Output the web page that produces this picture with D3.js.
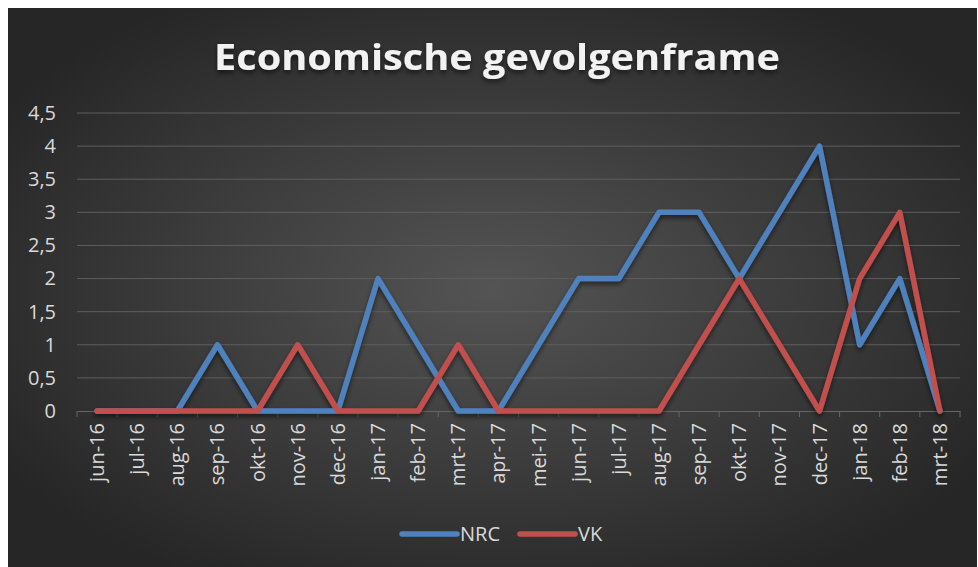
<!DOCTYPE html>
<meta charset="utf-8">
<style>
body { margin: 0; background: #fff; }
svg { display: block; }
.tick text { font-family: "Open Sans", "DejaVu Sans", sans-serif; }
</style>
<body>
<svg width="978" height="567"></svg>
</body>
<script src="https://cdn.jsdelivr.net/npm/d3@7/dist/d3.min.js"></script>
<script>

// data
var months = ["jun-16", "jul-16", "aug-16", "sep-16", "okt-16", "nov-16", "dec-16",
  "jan-17", "feb-17", "mrt-17", "apr-17", "mei-17", "jun-17", "jul-17", "aug-17",
  "sep-17", "okt-17", "nov-17", "dec-17", "jan-18", "feb-18", "mrt-18"];
var nrc = [0, 0, 0, 1, 0, 0, 0, 2, 1, 0, 0, 1, 2, 2, 3, 3, 2, 3, 4, 1, 2, 0];
var vk  = [0, 0, 0, 0, 0, 1, 0, 0, 0, 1, 0, 0, 0, 0, 0, 1, 2, 1, 0, 2, 3, 0];
var yTicks = [0, 0.5, 1, 1.5, 2, 2.5, 3, 3.5, 4, 4.5];
var seriesNames = ["NRC", "VK"];
var seriesColors = ["#4f81bd", "#c0504d"];

var svg = d3.select("svg");

var defs = svg.append("defs");
var grad = defs.append("radialGradient")
    .attr("id", "bg")
    .attr("cx", "50%").attr("cy", "50%").attr("r", "60%");
grad.append("stop").attr("offset", "0%").attr("stop-color", "#545454");
grad.append("stop").attr("offset", "100%").attr("stop-color", "#262626");

var shadow = defs.append("filter").attr("id", "shadow")
    .attr("x", "-10%").attr("y", "-10%").attr("width", "120%").attr("height", "130%");
shadow.append("feDropShadow")
    .attr("dx", 0).attr("dy", 3).attr("stdDeviation", 2.5)
    .attr("flood-color", "#000").attr("flood-opacity", 0.55);

svg.append("rect")
    .attr("x", 8).attr("y", 8)
    .attr("width", 969).attr("height", 559)
    .attr("fill", "url(#bg)");

// title
svg.append("text")
    .attr("x", 497).attr("y", 70)
    .attr("text-anchor", "middle")
    .attr("font-family", "'Open Sans', 'DejaVu Sans', sans-serif")
    .attr("font-weight", "bold")
    .attr("font-size", 35)
    .attr("fill", "#f2f2f2")
    .attr("textLength", 566)
    .attr("lengthAdjust", "spacingAndGlyphs")
    .attr("filter", "url(#shadow)")
    .text("Economische gevolgenframe");

var x = d3.scaleBand().domain(months).range([77, 960]);
var y = d3.scaleLinear().domain([0, 4.5]).range([411, 113]);

// grid
svg.append("g")
  .selectAll("line")
  .data(yTicks.slice(1))
  .enter().append("line")
    .attr("x1", 77).attr("x2", 960)
    .attr("y1", d => y(d)).attr("y2", d => y(d))
    .attr("stroke", "#5e5e5e")
    .attr("stroke-width", 1);

// y axis
var yAxis = svg.append("g")
    .attr("transform", "translate(77,0)")
    .call(d3.axisLeft(y).tickValues(yTicks).tickSize(0).tickPadding(21)
      .tickFormat(d => String(d).replace(".", ",")));
yAxis.select(".domain").remove();
yAxis.selectAll("text").attr("fill", "#d9d9d9").attr("font-size", 20);

// x axis
var xAxis = svg.append("g")
    .attr("transform", "translate(0," + y(0) + ")")
    .call(d3.axisBottom(x).tickSize(0).tickPadding(0));
xAxis.select(".domain").attr("stroke", "#666").attr("stroke-width", 1);
xAxis.selectAll("text")
    .attr("fill", "#d9d9d9").attr("font-size", 20)
    .attr("text-anchor", "end")
    .attr("dy", "0.35em")
    .attr("transform", "translate(0,12) rotate(-90)")
    .attr("x", 0).attr("y", 0);
// tick marks at band edges
xAxis.append("g")
  .selectAll("line")
  .data(months.concat(["end"]))
  .enter().append("line")
    .attr("x1", (d, i) => 77 + i * x.step())
    .attr("x2", (d, i) => 77 + i * x.step())
    .attr("y1", 0).attr("y2", 6)
    .attr("stroke", "#666");

var line = d3.line()
    .x((d, i) => x(months[i]) + x.bandwidth() / 2)
    .y(d => y(d));

var lines = svg.append("g").attr("filter", "url(#shadow)");
[nrc, vk].forEach(function(s, k) {
  lines.append("path")
      .attr("d", line(s))
      .attr("fill", "none")
      .attr("stroke", seriesColors[k])
      .attr("stroke-width", 5.5)
      .attr("stroke-linejoin", "round")
      .attr("stroke-linecap", "round");
});

// legend
var legend = svg.append("g");
var legX = [402, 520];
seriesNames.forEach(function(name, k) {
  legend.append("line")
      .attr("x1", legX[k]).attr("x2", legX[k] + 55)
      .attr("y1", 534).attr("y2", 534)
      .attr("stroke", seriesColors[k])
      .attr("stroke-width", 5.5)
      .attr("stroke-linecap", "round");
  legend.append("text")
      .attr("x", legX[k] + 58).attr("y", 541)
      .attr("font-family", "'Open Sans', 'DejaVu Sans', sans-serif")
      .attr("font-size", 20)
      .attr("fill", "#d9d9d9")
      .text(name);
});

</script>
